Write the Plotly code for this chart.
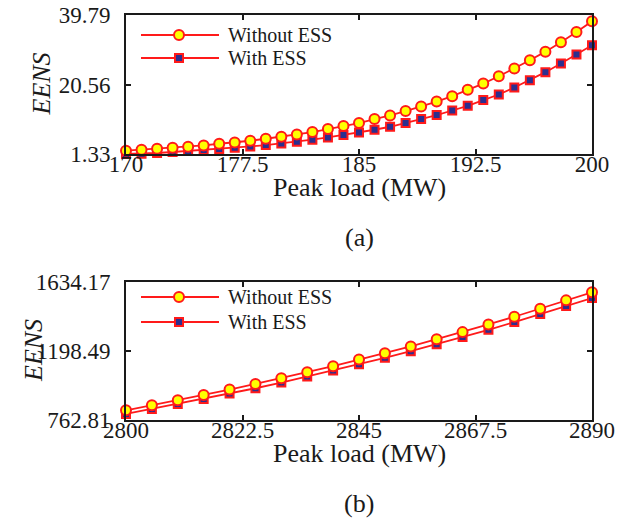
import plotly.graph_objects as go

# ---- data (a) ----
load_a = list(range(170, 201))
eens_a_without = [2.24, 2.52, 2.79, 3.07, 3.34, 3.70, 4.17, 4.53, 5.00, 5.55,
                  6.10, 6.74, 7.40, 8.23, 9.06, 9.89, 11.00, 11.99, 13.20, 14.47,
                  15.85, 17.34, 19.08, 20.82, 22.86, 24.96, 27.28, 29.65, 32.25, 35.10,
                  38.05]
eens_a_with = [1.33, 1.41, 1.60, 1.88, 2.16, 2.43, 2.71, 3.07, 3.43, 3.81,
               4.26, 4.72, 5.28, 5.92, 6.58, 7.30, 8.04, 8.87, 9.89, 11.00,
               12.10, 13.37, 14.67, 16.24, 17.79, 19.72, 21.76, 23.97, 26.35, 28.84,
               31.44]
xticks_a = [170, 177.5, 185, 192.5, 200]
yticks_a = [1.33, 20.56, 39.79]

# ---- data (b) ----
load_b = list(range(2800, 2891, 5))
eens_b_without = [824.0, 855.6, 887.3, 921.0, 954.8, 990.7, 1026.6, 1064.5, 1102.5, 1144.7,
                  1184.8, 1227.0, 1273.4, 1317.7, 1366.3, 1414.8, 1465.4, 1518.2, 1568.8]
eens_b_with = [800.8, 832.4, 864.1, 895.7, 929.5, 963.3, 999.1, 1037.1, 1075.1, 1115.2,
               1155.3, 1197.5, 1241.8, 1286.1, 1332.5, 1381.1, 1431.7, 1482.4, 1533.0]
xticks_b = [2800, 2822.5, 2845, 2867.5, 2890]
yticks_b = [762.81, 1198.49, 1634.17]

series_names = ["Without ESS", "With ESS"]

RED = "#FF1A1A"
YELLOW = "#FFFF00"
NAVY = "#2B2F8F"
INK = "#1a1a1a"
FONT = "Liberation Serif"

FW, FH = 617, 522


def px(sx):
    return sx / FW


def py(sy):
    return 1 - sy / FH


x0s, x1s = 126, 592
top_a, bot_a = 15, 154
top_b, bot_b = 282, 420

circle_marker = dict(symbol="circle", size=10, color=YELLOW, line=dict(color=RED, width=2))
square_marker = dict(symbol="square", size=8, color=NAVY, line=dict(color=RED, width=2))

fig = go.Figure()
for (xs, ys_wo, ys_w, xa, ya) in [
    (load_a, eens_a_without, eens_a_with, "x", "y"),
    (load_b, eens_b_without, eens_b_with, "x2", "y2"),
]:
    fig.add_trace(go.Scatter(x=xs, y=ys_w, mode="lines+markers", name=series_names[1],
                             line=dict(color=RED, width=1.8), marker=square_marker,
                             xaxis=xa, yaxis=ya, showlegend=False, cliponaxis=False))
    fig.add_trace(go.Scatter(x=xs, y=ys_wo, mode="lines+markers", name=series_names[0],
                             line=dict(color=RED, width=1.8), marker=circle_marker,
                             xaxis=xa, yaxis=ya, showlegend=False, cliponaxis=False))

axis_common = dict(showline=True, linecolor=INK, linewidth=2, mirror="ticks",
                   ticks="inside", ticklen=5, tickwidth=1.5, tickcolor=INK,
                   showgrid=False, zeroline=False, automargin=False,
                   ticklabeloverflow="allow",
                   tickfont=dict(family=FONT, size=23, color=INK))

TITLE_FONT = dict(family=FONT, size=26, color=INK)
xd = [px(x0s), px(x1s)]
fig.update_layout(
    width=FW, height=FH, margin=dict(l=0, r=0, t=0, b=0, autoexpand=False),
    paper_bgcolor="white", plot_bgcolor="white", showlegend=False,
    xaxis=dict(domain=xd, range=[170, 200], tickvals=xticks_a,
               ticktext=[f"{v:g}" for v in xticks_a], anchor="y",
               ticklabelstandoff=-12, **axis_common),
    yaxis=dict(domain=[py(bot_a), py(top_a)], range=[1.33, 39.79], tickvals=yticks_a,
               ticktext=[f"{v:.2f}" for v in yticks_a], anchor="x",
               ticklabelstandoff=9, **axis_common),
    xaxis2=dict(domain=xd, range=[2800, 2890], tickvals=xticks_b,
                ticktext=[f"{v:g}" for v in xticks_b], anchor="y2",
                ticklabelstandoff=-12, **axis_common),
    yaxis2=dict(domain=[py(bot_b), py(top_b)], range=[762.81, 1634.17], tickvals=yticks_b,
                ticktext=[f"{v:.2f}" for v in yticks_b], anchor="x2",
                ticklabelstandoff=9, **axis_common),
)

xc = 0.5 * (x0s + x1s)
# axis titles and captions
for text, sx, sy, ang in [
    ("Peak load (MW)", xc, 187, 0), ("(a)", xc, 237, 0),
    ("Peak load (MW)", xc, 453, 0), ("(b)", xc, 503, 0),
    ("<i>EENS</i>", 41, 0.5 * (top_a + bot_a), -90),
    ("<i>EENS</i>", 33, 0.5 * (top_b + bot_b), -90),
]:
    fig.add_annotation(text=text, x=px(sx), y=py(sy), xref="paper", yref="paper",
                       xanchor="center", yanchor="middle", textangle=ang,
                       showarrow=False, font=TITLE_FONT)


# custom legends (pixel positions on the page)
def add_legend(rows_y):
    for name, sy, kind in zip(series_names, rows_y, ["circle", "square"]):
        fig.add_shape(type="line", xref="paper", yref="paper", x0=px(141), x1=px(219),
                      y0=py(sy), y1=py(sy), line=dict(color=RED, width=1.8))
        if kind == "circle":
            fig.add_shape(type="circle", xref="paper", yref="paper", xsizemode="pixel",
                          ysizemode="pixel", xanchor=px(179), yanchor=py(sy),
                          x0=-5, x1=5, y0=-5, y1=5,
                          fillcolor=YELLOW, line=dict(color=RED, width=2))
        else:
            fig.add_shape(type="rect", xref="paper", yref="paper", xsizemode="pixel",
                          ysizemode="pixel", xanchor=px(179), yanchor=py(sy),
                          x0=-4, x1=4, y0=-4, y1=4,
                          fillcolor=NAVY, line=dict(color=RED, width=2))
        fig.add_annotation(text=name, xref="paper", yref="paper", x=px(226), y=py(sy),
                           xanchor="left", yanchor="middle", showarrow=False,
                           font=dict(family=FONT, size=20, color=INK))


add_legend([35, 58])
add_legend([297, 322])

# remove the default page margin so the figure fills the window exactly
fig.write_html("out.html", config={"displayModeBar": False},
               post_script="document.body.style.margin='0';document.body.style.overflow='hidden';")
